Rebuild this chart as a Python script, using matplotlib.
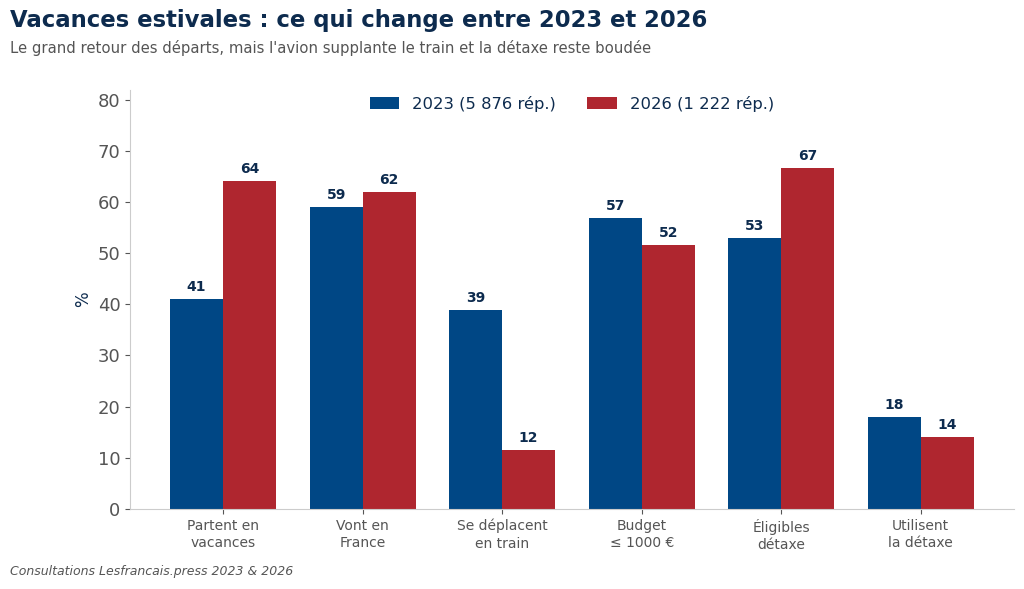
import matplotlib.pyplot as plt
import numpy as np

categories = ['Partent en\nvacances', 'Vont en\nFrance', 'Se déplacent\nen train',
              'Budget\n≤ 1000 €', 'Éligibles\ndétaxe', 'Utilisent\nla détaxe']
vals_2023 = [41.0, 59.0, 38.9, 56.9, 52.9, 17.9]
vals_2026 = [64.1, 61.9, 11.5, 51.6, 66.6, 14.1]
labels_series = ['2023 (5 876 rép.)', '2026 (1 222 rép.)']

navy = '#0d2b4e'
blue = '#004785'
red = '#af262f'

fig = plt.figure(figsize=(10.24, 5.89), dpi=100)
ax = fig.add_axes([0.127, 0.136, 0.863, 0.712])

x = np.arange(len(categories))
w = 0.38
b1 = ax.bar(x - w / 2, vals_2023, w, color=blue, label=labels_series[0])
b2 = ax.bar(x + w / 2, vals_2026, w, color=red, label=labels_series[1])

for bars, vals in [(b1, vals_2023), (b2, vals_2026)]:
    for rect, v in zip(bars, vals):
        ax.text(rect.get_x() + rect.get_width() / 2, v + 1.0, f'{round(v):.0f}',
                ha='center', va='bottom', fontsize=10, fontweight='bold', color=navy)

ax.set_xlim(-0.667, 5.667)
ax.set_ylim(0, 82)
ax.set_xticks(x)
ax.set_xticklabels(categories, fontsize=10, color='#555555', linespacing=1.35)
ax.set_yticks(range(0, 81, 10))
ax.tick_params(axis='y', labelsize=13, colors='#555555')
ax.tick_params(axis='x', colors='#555555')
ax.set_ylabel('%', fontsize=12, color=navy)
for s in ['top', 'right']:
    ax.spines[s].set_visible(False)
for s in ['left', 'bottom']:
    ax.spines[s].set_color('#cccccc')

ax.legend(loc='upper center', ncol=2, frameon=False, fontsize=11.8,
          labelcolor=navy, bbox_to_anchor=(0.5, 1.02), columnspacing=1.9,
          handlelength=1.8)

fig.text(0.01, 0.965, 'Vacances estivales : ce qui change entre 2023 et 2026',
         fontsize=16.4, fontweight='bold', color=navy, va='center')
fig.text(0.01, 0.918, "Le grand retour des départs, mais l'avion supplante le train et la détaxe reste boudée",
         fontsize=10.7, color='#555555', va='center')
fig.text(0.01, 0.03, 'Consultations Lesfrancais.press 2023 & 2026',
         fontsize=9, style='italic', color='#555555', va='center')

fig.savefig('out.png', dpi=100)
